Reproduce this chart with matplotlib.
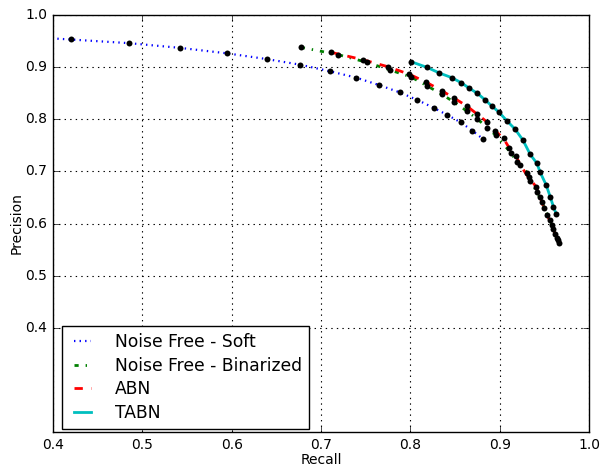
import matplotlib
matplotlib.use("Agg")
import matplotlib.pyplot as plt

plt.style.use("classic")

# Precision / recall curves
soft_recall = [0.38, 0.420, 0.485, 0.542, 0.5945, 0.639, 0.6766, 0.710, 0.739, 0.765,
               0.788, 0.808, 0.826, 0.8416, 0.8565, 0.8695, 0.881]
soft_precision = [0.957, 0.953, 0.946, 0.937, 0.9265, 0.9155, 0.9047, 0.892, 0.880, 0.8656,
                  0.8516, 0.8369, 0.822, 0.808, 0.794, 0.778, 0.7626]

bin_recall = [0.6774, 0.7195, 0.7513, 0.7774, 0.8009, 0.8185, 0.8353, 0.8494, 0.8633, 0.8751,
              0.8863, 0.8957, 0.9125, 0.9192, 0.9311, 0.9341, 0.9416, 0.9472, 0.9535, 0.9584,
              0.9622, 0.9649]
bin_precision = [0.9380, 0.9238, 0.9092, 0.8944, 0.8810, 0.8643, 0.8478, 0.8324, 0.8157, 0.8004,
                 0.7837, 0.7691, 0.7357, 0.7184, 0.6973, 0.6820, 0.6608, 0.6417, 0.6161, 0.5969,
                 0.5797, 0.5681]

abn_recall = [0.7113, 0.7468, 0.7748, 0.7990, 0.8174, 0.8353, 0.8494, 0.8633, 0.8751, 0.8863,
              0.8950, 0.9043, 0.9110, 0.9185, 0.9230, 0.9323, 0.9409, 0.9454, 0.9498, 0.9558,
              0.9602, 0.9640, 0.9666]
abn_precision = [0.9284, 0.9142, 0.9008, 0.8862, 0.8714, 0.8547, 0.8401, 0.8253, 0.8094, 0.7941,
                 0.7779, 0.7633, 0.7441, 0.7294, 0.7121, 0.6885, 0.6704, 0.6501, 0.6290, 0.6065,
                 0.5887, 0.5714, 0.5618]

tabn_recall = [0.8009, 0.8185, 0.8326, 0.8465, 0.8569, 0.8662, 0.8751, 0.8832, 0.8913, 0.8987,
               0.9081, 0.9174, 0.9260, 0.9342, 0.9417, 0.9454, 0.9521, 0.9566, 0.9602, 0.9633]
tabn_precision = [0.9104, 0.8996, 0.8887, 0.8797, 0.8701, 0.8593, 0.8497, 0.8378, 0.8253, 0.8144,
                  0.7971, 0.7806, 0.7601, 0.7326, 0.7154, 0.6981, 0.6737, 0.6512, 0.6321, 0.6180]

series = [
    ("Noise Free - Soft", soft_recall, soft_precision, dict(color="b", ls=":", lw=1.6)),
    ("Noise Free - Binarized", bin_recall, bin_precision, dict(color="g", ls="-.", lw=2)),
    ("ABN", abn_recall, abn_precision, dict(color="r", ls="--", lw=2)),
    ("TABN", tabn_recall, tabn_precision, dict(color="c", ls="-", lw=2)),
]

fig = plt.figure(figsize=(6.02, 4.66), dpi=100, facecolor="white")
ax = fig.add_axes([53 / 602, 1 - 432 / 466, (589 - 53) / 602, (432 - 15) / 466])

for label, r, p, style in series:
    ax.plot(r, p, label=label, **style)
for label, r, p, style in series:
    ax.plot(r, p, "o", color="k", markersize=4.3, markeredgewidth=0)

ax.set_xlim(0.4, 1.0)
ax.set_ylim(0.2, 1.0)
ax.set_yticks([0.4, 0.5, 0.6, 0.7, 0.8, 0.9, 1.0])
ax.set_xticks([0.4, 0.5, 0.6, 0.7, 0.8, 0.9, 1.0])
ax.tick_params(labelsize=10)
ax.grid(True, color="k", ls=":", lw=0.8)
ax.set_xlabel("Recall", fontsize=10, labelpad=1)
ax.set_ylabel("Precision", fontsize=10, labelpad=1)
ax.legend(loc="lower left", fontsize=12.3, handlelength=1.6, handletextpad=1.1,
          labelspacing=0.34, borderpad=0.4, borderaxespad=0,
          bbox_to_anchor=(62 / 602, 1 - 429 / 466), bbox_transform=fig.transFigure)

fig.savefig("out.png", dpi=100, facecolor="white")
